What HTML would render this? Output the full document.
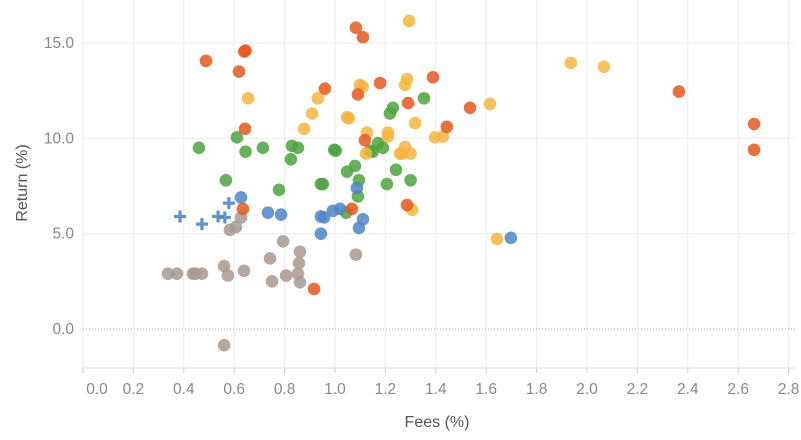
<!DOCTYPE html>
<html><head><meta charset="utf-8"><style>
body{margin:0;background:#fff;width:801px;height:435px;overflow:hidden;font-family:"Liberation Sans",sans-serif}
svg text{font-family:"Liberation Sans",sans-serif}
</style></head><body>
<svg id="chart" width="801" height="435" xmlns="http://www.w3.org/2000/svg">
<g id="grid"></g>
<g id="axes"></g>
<g id="marks"></g>
<text transform="translate(27,183) rotate(-90)" text-anchor="middle" font-size="16" fill="#555">Return (%)</text>
<text x="437" y="427" text-anchor="middle" font-size="16" fill="#555">Fees (%)</text>
</svg>
<script>
const xTicks=[0,0.2,0.4,0.6,0.8,1.0,1.2,1.4,1.6,1.8,2.0,2.2,2.4,2.6,2.8];
const yTicks=[0,5,10,15];
const orangeFees=[0.488,0.64,0.645,0.619,0.643,0.635,1.083,1.111,0.96,1.091,1.179,1.119,1.067,0.917,1.389,1.29,1.536,1.444,1.286,2.365,2.663,2.663];
const orangeRet=[14.06,14.55,14.6,13.5,10.5,6.3,15.8,15.3,12.6,12.3,12.9,9.9,6.3,2.1,13.2,11.85,11.6,10.6,6.5,12.45,10.75,9.4];
const yellowFees=[0.655,0.932,0.909,0.877,1.048,1.055,1.099,1.11,1.127,1.123,1.21,1.21,1.258,1.286,1.278,1.294,1.318,1.397,1.429,1.278,1.266,1.30,1.306,1.615,1.643,1.936,2.067];
const yellowRet=[12.1,12.1,11.3,10.5,11.1,11.05,12.8,12.7,10.3,9.2,10.3,10.1,9.2,13.1,12.8,16.15,10.8,10.05,10.1,9.55,9.2,9.2,6.25,11.8,4.72,13.95,13.75];
const greenFees=[0.46,0.611,0.645,0.714,0.567,0.778,0.829,0.853,0.825,0.944,0.952,0.997,1.003,1.048,1.079,1.095,1.091,1.044,1.218,1.23,1.139,1.15,1.171,1.19,1.206,1.242,1.353,1.30];
const greenRet=[9.5,10.05,9.3,9.5,7.8,7.3,9.6,9.5,8.9,7.6,7.6,9.4,9.35,8.25,8.55,7.8,6.95,6.1,11.3,11.6,9.35,9.3,9.75,9.5,7.6,8.35,12.1,7.8];
const blueFees=[0.627,0.734,0.786,0.944,0.957,0.944,0.992,1.02,1.087,1.111,1.095,1.698];
const blueRet=[6.9,6.1,6.0,5.9,5.85,5.0,6.2,6.3,7.4,5.75,5.3,4.78];
const crossFees=[0.385,0.472,0.536,0.563,0.579];
const crossRet=[5.9,5.5,5.9,5.85,6.6];
const grayFees=[0.337,0.373,0.436,0.446,0.472,0.56,0.575,0.639,0.583,0.607,0.627,0.742,0.75,0.794,0.806,0.861,0.857,0.853,0.861,1.083,0.56];
const grayRet=[2.9,2.9,2.9,2.9,2.9,3.3,2.8,3.05,5.2,5.35,5.85,3.7,2.5,4.6,2.8,4.05,3.45,2.9,2.45,3.9,-0.85];

const X=v=>83+v*252;
const Y=v=>329-v*19.07;
const NS="http://www.w3.org/2000/svg";
function mk(tag,attrs,parent){const e=document.createElementNS(NS,tag);for(const k in attrs)e.setAttribute(k,attrs[k]);parent.appendChild(e);return e;}
const grid=document.getElementById('grid'),axes=document.getElementById('axes'),marks=document.getElementById('marks');
xTicks.forEach((t,i)=>{
  const l=mk('line',{x1:X(t),x2:X(t),y1:0,y2:368,stroke:'#ececec','stroke-width':1},grid);
  
  
  const tk=mk('line',{x1:X(t),x2:X(t),y1:368,y2:373,stroke:'#ccc'},axes);
  
  
  const tx=mk('text',{x:i===0?X(t)+14:X(t),y:394,'text-anchor':'middle','font-size':15.5,fill:'#888'},axes);
  tx.textContent=t.toFixed(1);
  
  
});
yTicks.forEach(t=>{
  const l=mk('line',{x1:83,x2:795,y1:Y(t),y2:Y(t),stroke:t===0?'#aaa':'#ececec','stroke-width':1,'stroke-dasharray':t===0?'1,2':'none'},grid);
  
  
  const tx=mk('text',{x:74,y:Y(t)+5,'text-anchor':'end','font-size':15.5,fill:'#888'},axes);
  tx.textContent=t.toFixed(1);
  
  
});
const ax=mk('line',{x1:83,x2:795,y1:368,y2:368,stroke:'#ddd'},axes);


function dots(fs,rs,color,name){
  fs.forEach((f,i)=>{
    const c=mk('circle',{cx:X(f),cy:Y(rs[i]),r:6.3,fill:color,'fill-opacity':0.85},marks);
    
    
  });
}
dots(grayFees,grayRet,'#a89990','point-gray');
dots(greenFees,greenRet,'#4ea33f','point-green');
dots(blueFees,blueRet,'#4f86c6','point-blue');
dots(yellowFees,yellowRet,'#f5b53f','point-yellow');
dots(orangeFees,orangeRet,'#e5581f','point-orange');
crossFees.forEach((f,i)=>{
  const x=X(f),y=Y(crossRet[i]);
  const p=mk('path',{d:`M${x-6} ${y}H${x+6}M${x} ${y-6}V${y+6}`,stroke:'#4f86c6','stroke-width':3.2,'stroke-opacity':0.9},marks);
  
  
});
</script>
</body></html>
